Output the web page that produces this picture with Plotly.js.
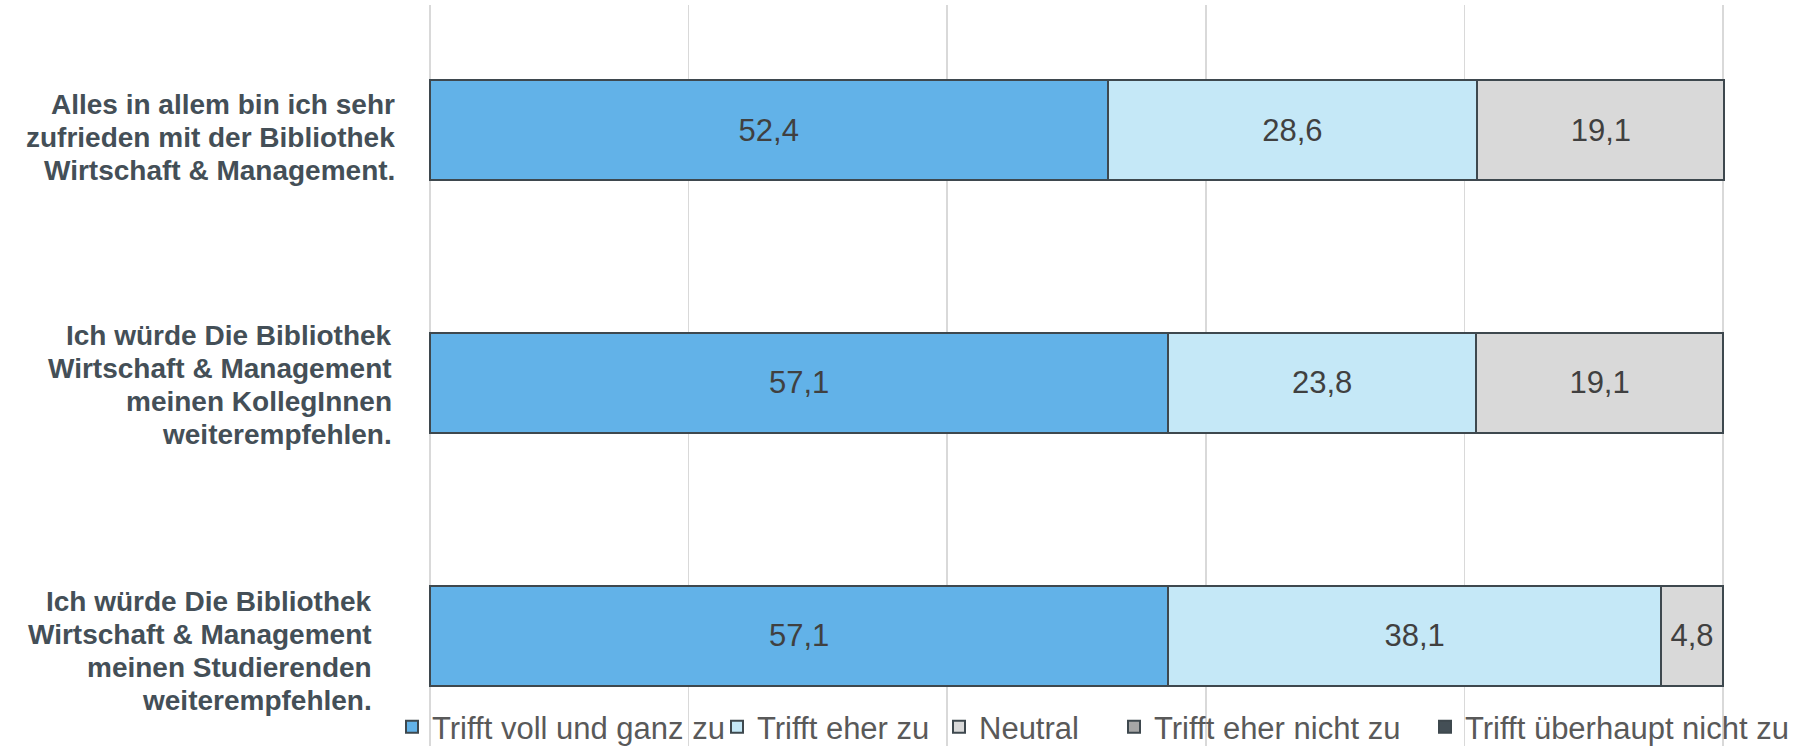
<!DOCTYPE html>
<html>
<head>
<meta charset="utf-8">
<script src="https://cdn.plot.ly/plotly-3.0.1.min.js"></script>
<style>html,body{margin:0;padding:0;background:#fff;}#chart{width:1815px;height:746px;}</style>
</head>
<body>
<div id="chart"></div>
<script>
// Categories (one entry per statement, lines split for wrapping)
const categories = ["Q1", "Q2", "Q3"];
const categoryLines = [
  ["Alles in allem bin ich sehr", "zufrieden mit der Bibliothek", "Wirtschaft & Management."],
  ["Ich würde Die Bibliothek", "Wirtschaft & Management", "meinen KollegInnen", "weiterempfehlen."],
  ["Ich würde Die Bibliothek", "Wirtschaft & Management", "meinen Studierenden", "weiterempfehlen."]
];
const seriesNames = ["Trifft voll und ganz zu", "Trifft eher zu", "Neutral", "Trifft eher nicht zu", "Trifft überhaupt nicht zu"];
const trifftVoll = [52.4, 57.1, 57.1];
const trifftEher = [28.6, 23.8, 38.1];
const neutral = [19.1, 19.1, 4.8];
const trifftEherNicht = [0, 0, 0];
const trifftUeberhauptNicht = [0, 0, 0];
const xTicks = [0, 20, 40, 60, 80, 100];

const seriesValues = [trifftVoll, trifftEher, neutral, trifftEherNicht, trifftUeberhauptNicht];
const colors = ["#62B2E8", "#C5E8F7", "#D9D9D9", "#A6A6A6", "#444F56"];
const outline = "#3E484E";
const legendIds = ["legend", "legend2", "legend3", "legend4", "legend5"];
const legendX = [392, 717, 939, 1114, 1425]; // pixel positions of legend entries

const FONT = "Liberation Sans, Arial, sans-serif";

const traces = seriesValues.map((vals, i) => ({
  type: "bar",
  orientation: "h",
  name: seriesNames[i],
  legend: legendIds[i],
  y: categories,
  x: vals,
  marker: { color: colors[i], line: { color: outline, width: 2 } },
  texttemplate: vals.map(v => v > 0 ? "%{x:.1f}" : ""),
  textposition: "inside",
  insidetextanchor: "middle",
  textangle: 0,
  textfont: { family: FONT, size: 31, color: "#404040" },
  hoverinfo: "skip"
}));

// Category labels drawn as annotations (one per line)
const labelXShift = [-32.5, -35.5, -55.5];
const labelYOffset = [-7, -2, -15];
const lineStep = 33;
const annotations = [];
categoryLines.forEach((lines, ci) => {
  const n = lines.length;
  lines.forEach((ln, li) => {
    annotations.push({
      xref: "x", yref: "y",
      x: xTicks[0], y: categories[ci],
      xanchor: "right", yanchor: "middle",
      xshift: labelXShift[ci],
      yshift: -((li - (n - 1) / 2) * lineStep) + labelYOffset[ci],
      text: "<b>" + ln + "</b>",
      showarrow: false,
      align: "right",
      font: { family: FONT, size: 28, color: "#444F57" }
    });
  });
});

const W = 1815, H = 746;
const legendBase = {
  orientation: "h",
  xref: "container", yref: "container",
  y: (H - 727) / H,
  xanchor: "left", yanchor: "middle",
  bgcolor: "rgba(0,0,0,0)",
  borderwidth: 0,
  font: { family: FONT, size: 31, color: "#595959" },
  itemclick: false, itemdoubleclick: false
};

const layout = {
  width: W, height: H,
  margin: { l: 427.56, r: 89.5, t: 5, b: 0, pad: 0, autoexpand: false },
  barmode: "stack",
  bargap: 0.604,
  separators: ",.",
  paper_bgcolor: "#ffffff",
  plot_bgcolor: "#ffffff",
  showlegend: true,
  xaxis: {
    range: [-0.15, 100.15],
    tickvals: xTicks,
    showticklabels: false,
    showgrid: true,
    gridcolor: "#D9D9D9",
    gridwidth: 1.5,
    zeroline: false,
    showline: false,
    ticks: ""
  },
  yaxis: {
    type: "category",
    range: [2.437, -0.4946],
    showticklabels: false,
    showgrid: false,
    zeroline: false,
    showline: false,
    ticks: ""
  },
  annotations: annotations
};
legendIds.forEach((id, i) => {
  layout[id] = Object.assign({}, legendBase, { x: legendX[i] / W });
});

Plotly.newPlot("chart", traces, layout, { displayModeBar: false, staticPlot: true });
</script>
</body>
</html>
